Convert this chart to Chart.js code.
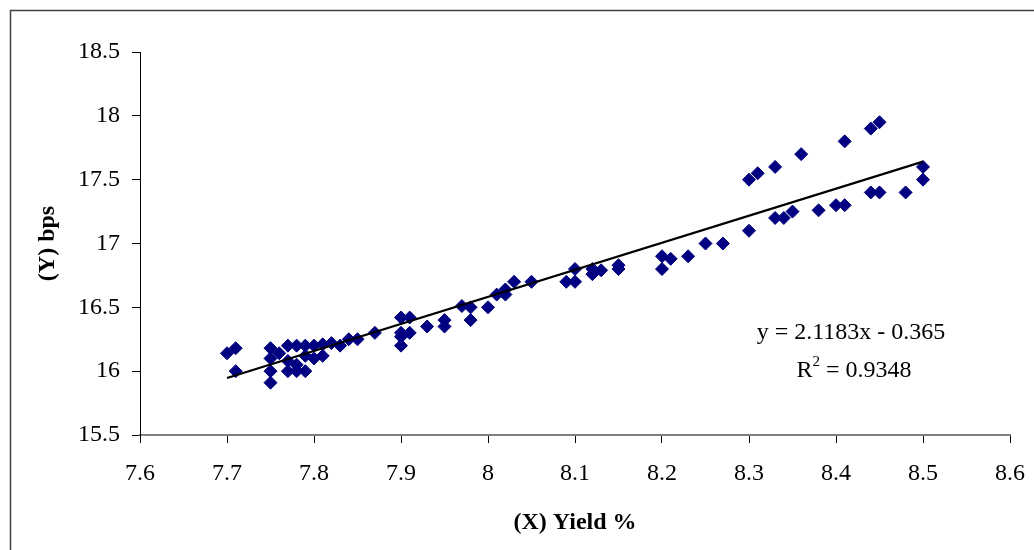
<!DOCTYPE html>
<html>
<head>
<meta charset="utf-8">
<script src="https://cdn.jsdelivr.net/npm/chart.js@4/dist/chart.umd.min.js"></script>
<style>
  html, body { margin: 0; padding: 0; background: #ffffff; }
  #wrap { width: 1034px; height: 550px; position: relative; }
</style>
</head>
<body>
<div id="wrap"><canvas id="c" width="1034" height="550"></canvas></div>
<script>
// ---- data ----
const yieldX = [
  7.70, 7.71, 7.71, 7.75, 7.75, 7.75, 7.75, 7.76, 7.77, 7.77,
  7.77, 7.78, 7.78, 7.78, 7.79, 7.79, 7.79, 7.80, 7.80, 7.81,
  7.81, 7.82, 7.83, 7.84, 7.85, 7.87, 7.90, 7.90, 7.90, 7.90,
  7.91, 7.91, 7.93, 7.95, 7.95, 7.97, 7.98, 7.98, 8.00, 8.01,
  8.02, 8.02, 8.03, 8.05, 8.09, 8.10, 8.10, 8.12, 8.12, 8.13,
  8.15, 8.15, 8.20, 8.20, 8.21, 8.23, 8.25, 8.27, 8.30, 8.30,
  8.31, 8.33, 8.33, 8.34, 8.35, 8.36, 8.38, 8.40, 8.41, 8.41,
  8.44, 8.44, 8.45, 8.45, 8.48, 8.50, 8.50
];
const bpsY = [
  16.14, 16.18, 16.00, 16.18, 16.10, 16.00, 15.91, 16.14, 16.20, 16.08,
  16.00, 16.20, 16.05, 16.00, 16.20, 16.12, 16.00, 16.20, 16.10, 16.21,
  16.12, 16.22, 16.20, 16.25, 16.25, 16.30, 16.42, 16.30, 16.27, 16.20,
  16.42, 16.30, 16.35, 16.40, 16.35, 16.51, 16.50, 16.40, 16.50, 16.60,
  16.64, 16.60, 16.70, 16.70, 16.70, 16.80, 16.70, 16.80, 16.76, 16.79,
  16.83, 16.80, 16.90, 16.80, 16.88, 16.90, 17.00, 17.00, 17.10, 17.50,
  17.55, 17.60, 17.20, 17.20, 17.25, 17.70, 17.26, 17.30, 17.30, 17.80,
  17.40, 17.90, 17.95, 17.40, 17.40, 17.60, 17.50
];
// trend line end points (as drawn)
const trendX = [7.70, 8.50];
const trendY = [15.946, 17.641];
const equationLines = ['y = 2.1183x - 0.365', '0.9348'];
const xTitle = '(X) Yield %';
const yTitle = '(Y) bps';

const scatterPts = yieldX.map((x, i) => ({ x: x, y: bpsY[i] }));
const trendPts = trendX.map((x, i) => ({ x: x, y: trendY[i] }));

const SERIF = '"Liberation Serif", "Times New Roman", serif';

const decor = {
  id: 'decor',
  afterDraw(chart) {
    const ctx = chart.ctx;
    ctx.save();
    // outer frame
    ctx.strokeStyle = '#404040';
    ctx.lineWidth = 1.5;
    ctx.strokeRect(10.5, 10.5, 1100, 700);
    // equation text
    ctx.fillStyle = '#000000';
    ctx.textBaseline = 'alphabetic';
    ctx.font = '24px ' + SERIF;
    ctx.textAlign = 'center';
    ctx.fillText(equationLines[0], 851, 339);
    // R^2 line
    const rest = ' = ' + equationLines[1];
    const wR = ctx.measureText('R').width;
    const wRest = ctx.measureText(rest).width;
    ctx.font = '15px ' + SERIF;
    const wSup = ctx.measureText('2').width;
    const total = wR + wSup + wRest;
    const x0 = 854 - total / 2;
    ctx.textAlign = 'left';
    ctx.font = '24px ' + SERIF;
    ctx.fillText('R', x0, 377);
    ctx.font = '15px ' + SERIF;
    ctx.fillText('2', x0 + wR, 366);
    ctx.font = '24px ' + SERIF;
    ctx.fillText(rest, x0 + wR + wSup, 377);
    ctx.restore();
  }
};

new Chart(document.getElementById('c'), {
  type: 'scatter',
  data: {
    datasets: [
      {
        type: 'line',
        data: trendPts,
        borderColor: '#000000',
        borderWidth: 2.2,
        pointRadius: 0,
        fill: false,
        showLine: true,
        order: 0
      },
      {
        data: scatterPts,
        backgroundColor: '#000080',
        borderColor: '#000080',
        borderWidth: 1,
        pointStyle: 'rectRot',
        pointRadius: 6.5,
        order: 1
      }
    ]
  },
  options: {
    responsive: false,
    animation: false,
    layout: { padding: { top: 52, right: 24, left: 0, bottom: 0 } },
    plugins: { legend: { display: false }, tooltip: { enabled: false } },
    scales: {
      x: {
        type: 'linear',
        min: 7.6, max: 8.6,
        afterFit(s) { s.height = 115; s.paddingLeft = 0; s.paddingRight = 0; },
        ticks: {
          stepSize: 0.1,
          color: '#000000',
          padding: 16,
          maxRotation: 0,
          font: { family: SERIF, size: 24 },
          callback: v => String(+v.toFixed(1))
        },
        grid: { drawOnChartArea: false, drawTicks: true, tickLength: 8, color: '#000000', lineWidth: 1 },
        border: { color: '#808080', width: 2 },
        title: {
          display: true, text: xTitle, color: '#000000',
          font: { family: SERIF, size: 24, weight: 'bold' },
          padding: { top: 0, bottom: 13 }
        }
      },
      y: {
        type: 'linear',
        min: 15.5, max: 18.5,
        afterFit(s) { s.width = 140; s.paddingTop = 0; s.paddingBottom = 0; },
        ticks: {
          stepSize: 0.5,
          color: '#000000',
          padding: 12,
          font: { family: SERIF, size: 24 },
          callback: v => String(+v.toFixed(1))
        },
        grid: { drawOnChartArea: false, drawTicks: true, tickLength: 8, color: '#000000', lineWidth: 1 },
        border: { color: '#000000', width: 1 },
        title: {
          display: true, text: yTitle, color: '#000000',
          font: { family: SERIF, size: 24, weight: 'bold' },
          padding: { top: 33, bottom: 0 }
        }
      }
    }
  },
  plugins: [decor]
});
</script>
</body>
</html>
